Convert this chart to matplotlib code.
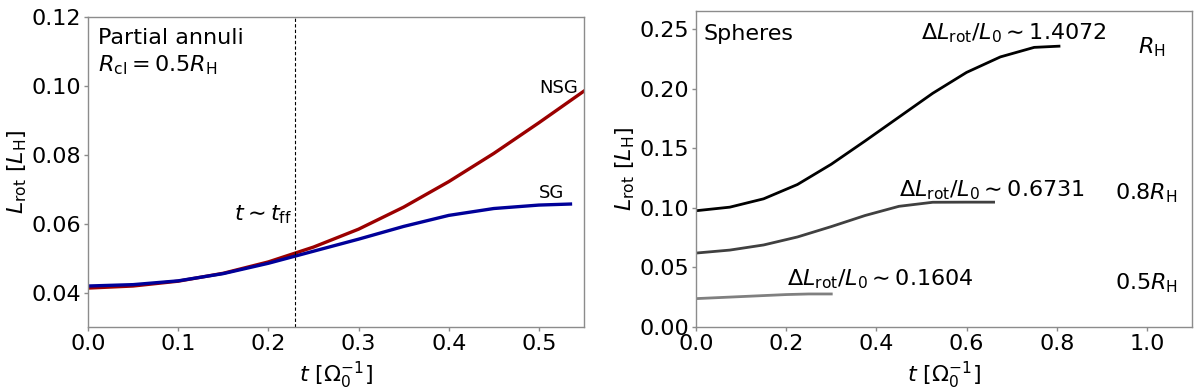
import matplotlib
matplotlib.use("Agg")
import matplotlib.pyplot as plt

#------------------------------------------------------------------------------
# Data

# left panel: partial annuli, R_cl = 0.5 R_H
t_nsg = [0.0, 0.05, 0.1, 0.15, 0.2, 0.25, 0.3, 0.35, 0.4, 0.45, 0.5, 0.55]
l_nsg = [0.0413, 0.0419, 0.0433, 0.0456, 0.0489, 0.0532, 0.0584, 0.0648,
         0.0722, 0.0804, 0.0893, 0.0985]
t_sg = [0.0, 0.05, 0.1, 0.15, 0.2, 0.25, 0.3, 0.35, 0.4, 0.45, 0.5, 0.535]
l_sg = [0.0419, 0.0423, 0.0434, 0.0455, 0.0485, 0.0520, 0.0555, 0.0592,
        0.0624, 0.0644, 0.0654, 0.0657]
t_ff = 0.23

# right panel: spheres of different radii
t_r10 = [0.0, 0.075, 0.15, 0.225, 0.3, 0.375, 0.45, 0.525, 0.6, 0.675, 0.75, 0.805]
l_r10 = [0.0975, 0.1005, 0.1075, 0.1195, 0.1365, 0.156, 0.176, 0.196,
         0.2135, 0.2265, 0.2345, 0.2355]
t_r08 = [0.0, 0.075, 0.15, 0.225, 0.3, 0.375, 0.45, 0.525, 0.6, 0.66]
l_r08 = [0.062, 0.0645, 0.0688, 0.0755, 0.0842, 0.0935, 0.1012, 0.1046,
         0.1047, 0.1047]
t_r05 = [0.0, 0.1, 0.2, 0.25, 0.3]
l_r05 = [0.0238, 0.0255, 0.0272, 0.0277, 0.0277]

ratios = ["1.4072", "0.6731", "0.1604"]
radius_labels = [r"$R_{\rm H}$", r"$0.8R_{\rm H}$", r"$0.5R_{\rm H}$"]

#------------------------------------------------------------------------------
FS = 16
plt.rcParams['font.size'] = FS
plt.rcParams['mathtext.fontset'] = 'dejavusans'

W, H = 1200, 390
fig = plt.figure(figsize=(12, 3.9), dpi=100)

def style(ax):
    for s in ax.spines.values():
        s.set_color('0.55')
        s.set_linewidth(1.0)
    ax.tick_params(length=3, width=1, color='0.55', labelsize=FS, pad=2)

xlab = r"$t\ [\Omega_0^{-1}]$"
ylab = r"$L_{\rm rot}\ [L_{\rm H}]$"

#------------------------------------------------------------------------------
# Left panel
ax1 = fig.add_axes([88 / W, (H - 327) / H, 496 / W, 310 / H])
ax1.plot(t_nsg, l_nsg, color='#9b0000', lw=2.4)
ax1.plot(t_sg, l_sg, color='#000099', lw=2.4)
ax1.axvline(t_ff, color='k', ls='--', lw=0.8, dashes=(3, 2))
ax1.set_xlim(0, 0.55)
ax1.set_ylim(0.03, 0.12)
ax1.set_xticks([0.0, 0.1, 0.2, 0.3, 0.4, 0.5])
ax1.set_yticks([0.04, 0.06, 0.08, 0.10, 0.12])
ax1.set_xlabel(xlab, labelpad=4)
ax1.set_ylabel(ylab, labelpad=2)
ax1.text(0.021, 0.965, "Partial annuli", transform=ax1.transAxes,
         va='top', ha='left')
ax1.text(0.021, 0.845, r"$R_{\rm cl}=0.5R_{\rm H}$", transform=ax1.transAxes,
         va='center', ha='left')
ax1.text(t_ff - 0.004, 0.0625, r"$t\sim t_{\rm ff}$", ha='right', va='center')
ax1.text(0.5, 0.0995, "NSG", ha='left', va='center', fontsize=13)
ax1.text(0.5, 0.0688, "SG", ha='left', va='center', fontsize=13)
style(ax1)

#------------------------------------------------------------------------------
# Right panel
ax2 = fig.add_axes([696 / W, (H - 327) / H, 496 / W, 316 / H])
ax2.plot(t_r10, l_r10, color='black', lw=2.0)
ax2.plot(t_r08, l_r08, color='#404040', lw=2.0)
ax2.plot(t_r05, l_r05, color='#808080', lw=2.0)
ax2.set_xlim(0, 1.1)
ax2.set_ylim(0, 0.265)
ax2.set_xticks([0.0, 0.2, 0.4, 0.6, 0.8, 1.0])
ax2.set_yticks([0.0, 0.05, 0.10, 0.15, 0.20, 0.25])
ax2.set_xlabel(xlab, labelpad=4)
ax2.set_ylabel(ylab, labelpad=2)
ax2.text(0.017, 0.246, "Spheres", ha='left', va='center')

ratio_pos = [(0.5, 0.246), (0.45, 0.1148), (0.201, 0.040)]
label_pos = [(0.98, 0.2345), (0.93, 0.1125), (0.93, 0.0366)]
for r, (x, y) in zip(ratios, ratio_pos):
    ax2.text(x, y, r"$\Delta L_{\rm rot}/L_0\sim$" + r, ha='left', va='center')
for lab, (x, y) in zip(radius_labels, label_pos):
    ax2.text(x, y, lab, ha='left', va='center')
style(ax2)

fig.savefig("out.png", dpi=100)
